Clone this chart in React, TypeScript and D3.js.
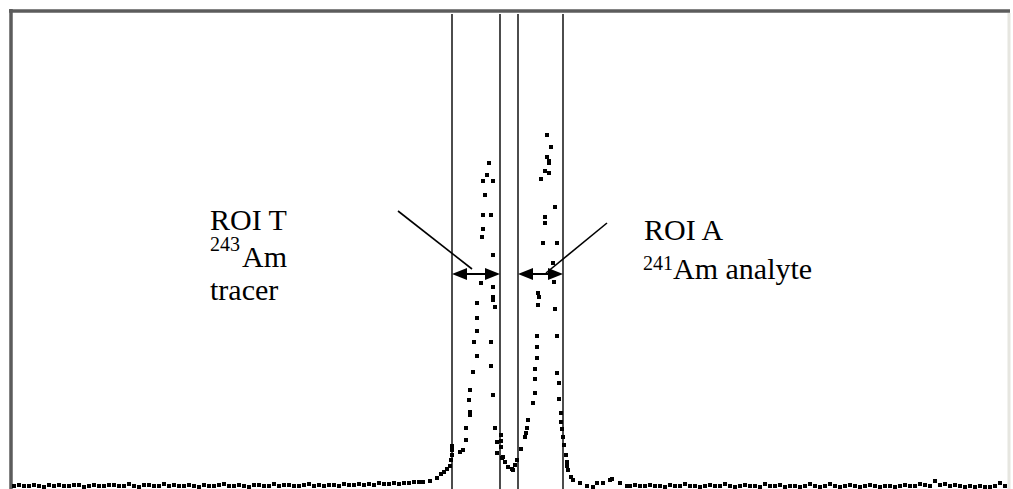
import * as d3 from 'd3';

// spectrum channels / counts
const leftTailChannels = [
  4, 9, 14, 19, 24, 29, 34, 39, 44, 49, 54, 59, 64, 69, 74, 79, 84, 89, 94, 99,
  104, 109, 114, 119, 124, 129, 134, 139, 144, 149, 154, 159, 164, 169, 174, 179, 184, 189, 194, 199,
  204, 209, 214, 219, 224, 229, 234, 239, 244, 249, 254, 259, 264, 269, 274, 279, 284, 289, 294, 299,
  304, 309, 314, 319, 324, 329, 334, 339, 344, 349, 354, 359, 364, 369, 374, 379, 384, 389, 394, 399,
  404, 409,
];
const leftTailCounts = [
  1, 2, 1, 1, 2, 1, 0, 2, 1, 2, 1, 1, 2, 2, 0, 1, 2, 1, 1, 2,
  2, 1, 1, 3, 1, 0, 2, 2, 1, 1, 3, 1, 2, 1, 1, 2, 1, 0, 2, 1,
  1, 2, 3, 1, 1, 2, 1, 0, 2, 2, 1, 1, 3, 1, 2, 2, 1, 1, 2, 3,
  1, 2, 1, 2, 2, 1, 3, 2, 2, 3, 2, 3, 2, 4, 3, 3, 4, 3, 4, 4,
  5, 5,
];

const peakChannels = [
  413, 420, 427, 431, 434, 437, 440, 441, 442, 442, 442, 450, 453, 456, 456, 459, 460, 460, 460, 463,
  464, 467, 467, 467, 467, 471, 472, 473, 473, 473, 475, 477, 479, 481, 481, 481, 483, 483, 483, 483,
  483, 483, 485, 485, 487, 487, 491, 491, 491, 492, 493, 495, 498, 502, 503, 505, 507, 511, 515, 516,
  517, 518, 523, 525, 525, 525, 527, 527, 527, 528, 528, 529, 531, 533, 535, 535, 535, 537, 537, 539,
  539, 539, 541, 543, 544, 545, 545, 547, 547, 547, 549, 549, 551, 551, 552, 553, 554, 556, 557, 557,
  558, 561, 563, 570, 577, 583, 587, 593, 600, 602, 610, 617,
];
const peakCounts = [
  5, 6, 9, 13, 15, 18, 21, 27, 32, 37, 41, 35, 37, 47, 59, 87, 72, 75, 97, 115,
  145, 131, 156, 169, 184, 204, 250, 258, 272, 306, 292, 312, 324, 272, 145, 121, 306, 232, 200, 190,
  187, 92, 180, 59, 45, 34, 52, 46, 40, 29, 30, 25, 20, 18, 17, 22, 27, 38, 50, 54,
  59, 67, 84, 94, 108, 118, 129, 140, 151, 182, 194, 190, 308, 244, 264, 270, 316, 330, 352, 326,
  324, 314, 340, 224, 205, 280, 178, 244, 151, 114, 104, 88, 74, 65, 58, 50, 42, 32, 25, 21,
  17, 10, 7, 4, 1, 0, 4, 4, 7, 8, 4, 1,
];

const rightTailChannels = [
  620, 625, 630, 635, 640, 645, 650, 655, 660, 665, 670, 675, 680, 685, 690, 695, 700, 705, 710, 715,
  720, 725, 730, 735, 740, 745, 750, 755, 760, 765, 770, 775, 780, 785, 790, 795, 800, 805, 810, 815,
  820, 825, 830, 835, 840, 845, 850, 855, 860, 865, 870, 875, 880, 885, 890, 895, 900, 905, 910, 915,
  920, 925, 930, 935, 940, 945, 950, 955, 960, 965, 970, 975, 980, 985, 990, 995,
];
const rightTailCounts = [
  1, 2, 1, 1, 2, 1, 1, 0, 2, 1, 1, 3, 1, 1, 0, 1, 2, 1, 1, 3,
  1, 0, 1, 2, 1, 1, 0, 3, 1, 1, 2, 0, 1, 1, 0, 1, 3, 1, 0, 1,
  3, 1, 0, 1, 2, 1, 0, 1, 2, 1, 0, 1, 1, 0, 1, 2, 1, 1, 3, 2,
  1, 6, 2, 3, 1, 2, 1, 0, 1, 0, 1, 0, 0, 1, 4, 1,
];

// regions of interest (channel limits) and where the arrows sit
const roiTracer = [442, 490];
const roiAnalyte = [508, 553];
const arrowLevel = 213;

// pointer lines from the labels, [channel, count]
const tracerPointer = [[388, 276], [462, 218]];
const analytePointer = [[597, 264], [536, 214]];

const W = 1013;
const H = 489;

type Pt = { ch: number; c: number };

const zipPts = (chs: number[], cs: number[]): Pt[] => chs.map((ch, i) => ({ ch, c: cs[i] }));

const App = () => {
  const x = d3.scaleLinear().domain([0, 1000]).range([10, 1010]);
  const y = d3.scaleLinear().domain([0, 475]).range([487, 12]);

  const points = [
    ...zipPts(leftTailChannels, leftTailCounts),
    ...zipPts(peakChannels, peakCounts),
    ...zipPts(rightTailChannels, rightTailCounts),
  ];

  const roiLines = [...roiTracer, ...roiAnalyte];

  // double headed arrow between two channels
  const arrow = (r: number[], key: string) => {
    const x0 = x(r[0]);
    const x1 = x(r[1]);
    const yy = y(arrowLevel);
    const hl = 15;
    const hw = 6;
    return (
      <g key={key}>
        <line x1={x0 + 4} x2={x1 - 4} y1={yy} y2={yy} stroke="#000" strokeWidth={2} />
        <path d={`M${x0},${yy}L${x0 + hl},${yy - hw}L${x0 + hl},${yy + hw}Z`} fill="#000" />
        <path d={`M${x1},${yy}L${x1 - hl},${yy - hw}L${x1 - hl},${yy + hw}Z`} fill="#000" />
      </g>
    );
  };

  const font = '"Liberation Serif", "Times New Roman", serif';

  return (
    <svg width={W} height={H} style={{ position: 'absolute', left: 0, top: 0, background: '#fff' }}>
      <rect width={W} height={H} fill="#fff" />

      {/* frame */}
      <line x1={9} x2={1010} y1={11} y2={11} stroke="#5c5c5c" strokeWidth={3.5} />
      <line x1={11} x2={11} y1={9} y2={H} stroke="#5c5c5c" strokeWidth={3.5} />
      <line x1={1009} x2={1009} y1={13} y2={H} stroke="#e6e6e0" strokeWidth={3} />

      {/* ROI limits */}
      {roiLines.map((ch, i) => (
        <line key={i} x1={x(ch)} x2={x(ch)} y1={14} y2={H} stroke="#000" strokeWidth={1.4} />
      ))}

      {/* spectrum */}
      {points.map((p, i) => (
        <rect key={i} x={x(p.ch) - 2} y={y(p.c) - 2} width={4} height={4} fill="#000" />
      ))}

      {arrow(roiTracer, 'at')}
      {arrow(roiAnalyte, 'aa')}

      {[tracerPointer, analytePointer].map((pp, i) => (
        <line key={i} x1={x(pp[0][0])} y1={y(pp[0][1])} x2={x(pp[1][0])} y2={y(pp[1][1])}
          stroke="#000" strokeWidth={1.6} />
      ))}

      <g fontFamily={font} fill="#000">
        <text x={x(200)} y={y(257)} fontSize={30}>ROI T</text>
        <text x={x(200)} y={y(220.5)}>
          <tspan fontSize={20} dy={-16}>243</tspan>
          <tspan fontSize={30} dy={16} dx={2}>Am</tspan>
        </text>
        <text x={x(200)} y={y(187)} fontSize={30}>tracer</text>

        <text x={x(634)} y={y(247)} fontSize={30}>ROI A</text>
        <text x={x(633)} y={y(208.5)}>
          <tspan fontSize={20} dy={-9}>241</tspan>
          <tspan fontSize={30} dy={9}>Am analyte</tspan>
        </text>
      </g>
    </svg>
  );
};

export default App;
